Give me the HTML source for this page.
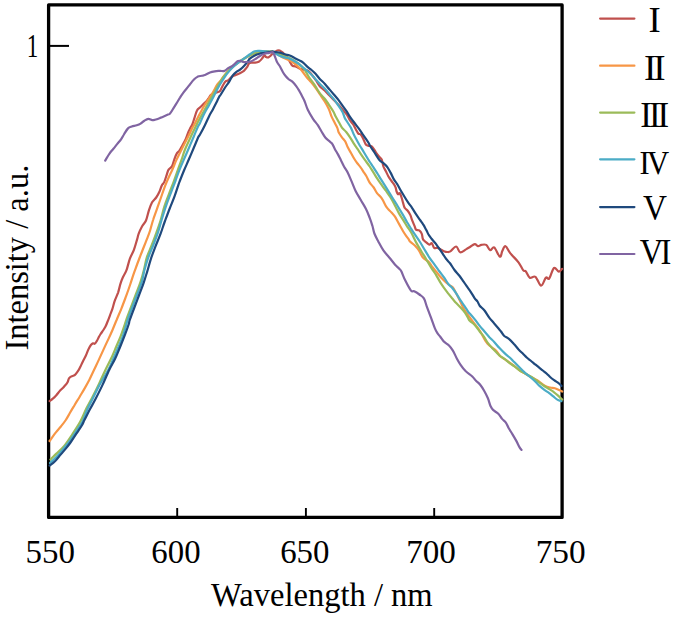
<!DOCTYPE html>
<html><head><meta charset="utf-8"><style>
html,body{margin:0;padding:0;background:#fff;}
body{width:675px;height:619px;overflow:hidden;}
svg{display:block;}
text{font-family:"Liberation Serif",serif;fill:#000;}
</style></head><body>
<svg width="675" height="619" viewBox="0 0 675 619">
<rect x="0" y="0" width="675" height="619" fill="#fff"/>
<g stroke="#000" fill="none">
<path d="M48.6 4.9 H562.1 V517.4 H48.6 Z" stroke-width="3.3" stroke-linejoin="round"/>
<path d="M177.2 517 V508 M305.9 517 V508 M434.2 517 V508" stroke-width="1.9"/>
<path d="M50 45.9 H69" stroke-width="2"/>
</g>
<g fill="none" stroke-width="2.2" stroke-linejoin="round" stroke-linecap="round">
<path d="M49.6 401.1 C50.1 400.7 51.7 399.6 52.8 398.6 C53.9 397.7 54.9 396.7 56.1 395.4 C57.3 394.1 58.8 392.1 60.1 390.6 C61.5 389.1 63.0 387.9 64.2 386.5 C65.4 385.1 66.6 383.9 67.4 382.5 C68.2 381.1 68.3 379.4 69.0 378.4 C69.7 377.4 70.5 376.9 71.4 376.4 C72.4 375.9 73.6 376.1 74.7 375.2 C75.8 374.3 76.9 372.6 77.9 371.2 C78.9 369.8 79.7 368.2 80.5 366.5 C81.3 364.8 82.1 363.0 83.0 361.2 C83.9 359.4 85.0 357.4 85.9 355.5 C86.8 353.6 87.5 351.4 88.3 349.6 C89.1 347.9 90.1 346.0 90.9 345.0 C91.7 344.0 92.2 343.6 92.9 343.4 C93.6 343.2 94.2 344.1 94.8 343.7 C95.4 343.3 96.0 342.3 96.7 341.2 C97.4 340.1 98.1 338.5 98.7 337.3 C99.3 336.1 99.8 335.2 100.6 334.0 C101.4 332.8 102.6 331.2 103.4 330.0 C104.2 328.8 104.8 327.8 105.5 326.5 C106.2 325.2 106.7 323.9 107.4 322.0 C108.2 320.1 109.2 317.5 110.0 315.3 C110.8 313.1 111.6 311.2 112.4 308.8 C113.2 306.4 113.8 303.4 114.8 300.7 C115.8 298.0 117.1 295.4 118.1 292.6 C119.0 289.8 119.7 286.2 120.5 283.7 C121.3 281.1 121.9 279.5 122.9 277.3 C123.9 275.1 125.2 273.5 126.4 270.4 C127.6 267.3 128.6 262.2 129.8 258.8 C131.1 255.4 132.7 253.1 133.9 249.9 C135.1 246.7 136.3 242.1 137.1 239.4 C137.9 236.7 137.9 235.8 138.7 233.7 C139.5 231.5 140.8 228.7 142.0 226.5 C143.2 224.3 144.8 223.2 146.0 220.5 C147.2 217.8 147.9 213.4 148.9 210.4 C149.9 207.4 150.9 204.5 152.1 202.3 C153.3 200.2 155.0 199.2 156.2 197.5 C157.4 195.8 158.5 193.8 159.4 191.8 C160.3 189.8 161.0 187.0 161.8 185.4 C162.6 183.8 163.4 183.9 164.2 182.1 C165.0 180.3 166.0 176.9 166.7 174.8 C167.4 172.7 167.7 171.1 168.6 169.6 C169.5 168.1 171.1 167.9 172.1 166.1 C173.1 164.3 173.7 161.0 174.5 158.8 C175.3 156.6 176.2 154.4 177.0 153.1 C177.8 151.8 178.5 152.0 179.4 150.7 C180.3 149.3 181.5 147.0 182.6 145.0 C183.7 143.0 184.9 140.8 185.9 138.6 C186.9 136.4 187.5 134.0 188.3 132.1 C189.1 130.2 190.0 128.7 190.7 127.3 C191.4 126.0 191.9 125.6 192.5 124.0 C193.1 122.4 193.8 120.0 194.5 117.8 C195.2 115.6 196.1 112.3 197.0 110.6 C197.9 108.8 199.1 108.4 200.2 107.3 C201.3 106.2 202.3 105.2 203.4 104.1 C204.5 103.0 205.8 102.0 206.7 100.9 C207.6 99.8 208.4 98.5 209.1 97.6 C209.8 96.6 209.9 95.9 210.7 95.2 C211.5 94.5 212.7 94.1 213.9 93.6 C215.1 93.1 217.0 92.4 218.0 92.0 C219.0 91.6 219.3 91.8 220.0 91.0 C220.7 90.2 221.2 88.6 222.1 87.0 C223.0 85.4 224.4 82.5 225.4 81.4 C226.4 80.3 227.0 81.1 227.8 80.6 C228.6 80.1 229.1 79.3 230.0 78.5 C230.9 77.7 232.0 76.6 233.0 76.0 C234.0 75.4 234.8 75.4 235.9 74.9 C237.1 74.5 238.6 74.0 239.9 73.3 C241.2 72.6 243.0 71.6 243.9 70.9 C244.8 70.2 244.9 69.7 245.5 69.0 C246.1 68.3 246.8 67.6 247.4 66.7 C248.0 65.8 248.3 64.1 249.0 63.4 C249.7 62.7 250.6 62.7 251.5 62.6 C252.4 62.5 253.5 62.7 254.7 62.6 C255.9 62.5 257.5 62.5 258.7 61.8 C259.9 61.1 261.1 59.7 262.0 58.6 C262.9 57.5 263.7 55.7 264.4 55.4 C265.1 55.1 265.3 56.7 266.0 57.0 C266.7 57.3 267.6 57.7 268.4 57.4 C269.2 57.1 270.1 56.1 270.9 55.4 C271.7 54.6 272.2 53.7 273.3 52.9 C274.4 52.1 276.2 50.9 277.3 50.5 C278.4 50.1 278.9 50.2 279.7 50.5 C280.5 50.8 281.3 51.4 282.2 52.1 C283.1 52.9 284.0 53.9 285.0 55.0 C286.0 56.1 286.9 56.9 288.0 58.5 C289.1 60.1 290.5 63.2 291.3 64.4 C292.1 65.7 292.2 65.7 292.9 66.0 C293.6 66.3 294.4 66.1 295.5 66.5 C296.6 66.9 298.1 67.9 299.4 68.4 C300.6 68.9 301.5 69.1 303.0 69.5 C304.5 69.9 306.8 70.0 308.3 70.9 C309.8 71.8 310.7 73.4 312.0 75.0 C313.3 76.6 314.7 78.6 316.0 80.5 C317.3 82.4 318.4 84.5 319.8 86.2 C321.2 87.9 323.1 89.0 324.7 90.5 C326.3 92.0 328.0 94.0 329.5 95.5 C331.0 97.0 332.1 98.2 333.6 99.8 C335.1 101.3 336.9 103.2 338.4 104.8 C339.9 106.4 341.1 107.8 342.5 109.5 C343.9 111.2 345.7 113.1 347.0 115.0 C348.3 116.9 349.1 119.1 350.2 120.7 C351.3 122.3 352.4 123.2 353.4 124.7 C354.3 126.2 355.1 128.0 355.9 129.5 C356.7 131.0 357.5 132.8 358.3 133.6 C359.1 134.4 359.9 133.6 360.7 134.4 C361.5 135.2 362.3 136.8 363.1 138.4 C363.9 140.0 364.8 142.9 365.6 144.1 C366.4 145.3 366.9 145.3 368.0 145.7 C369.1 146.1 370.7 145.4 372.0 146.5 C373.3 147.6 374.7 150.6 375.9 152.3 C377.1 154.0 378.0 155.3 379.0 156.5 C380.0 157.7 381.0 157.8 381.7 159.5 C382.4 161.2 382.7 164.5 383.4 166.5 C384.1 168.5 385.1 169.7 385.9 171.3 C386.7 172.9 387.4 174.6 388.3 176.2 C389.2 177.8 390.6 179.7 391.5 181.0 C392.4 182.3 393.2 183.1 393.9 184.2 C394.6 185.3 395.2 186.3 395.6 187.5 C396.1 188.7 396.2 190.4 396.6 191.5 C397.0 192.6 397.5 193.9 398.0 194.2 C398.5 194.5 399.2 192.7 399.8 193.2 C400.4 193.7 400.9 195.7 401.5 197.3 C402.1 198.9 402.6 201.2 403.1 202.9 C403.6 204.7 403.9 206.5 404.7 207.8 C405.5 209.2 406.9 209.8 407.9 211.0 C408.8 212.2 409.7 213.6 410.4 215.1 C411.1 216.6 411.3 218.2 412.0 219.9 C412.7 221.7 413.7 224.0 414.4 225.6 C415.1 227.2 415.2 228.8 416.0 229.6 C416.8 230.4 418.2 229.7 419.2 230.4 C420.1 231.1 421.1 232.3 421.7 233.6 C422.3 234.9 422.3 236.9 422.6 238.0 C422.9 239.1 422.9 239.3 423.5 240.0 C424.1 240.7 425.2 241.5 426.2 242.3 C427.2 243.1 428.5 244.6 429.4 244.7 C430.3 244.8 431.0 242.6 431.8 243.1 C432.6 243.6 433.2 247.1 434.2 247.9 C435.1 248.7 436.4 247.6 437.5 247.9 C438.6 248.2 439.6 248.9 440.7 249.5 C441.8 250.1 442.8 250.8 443.9 251.2 C445.0 251.6 446.1 252.0 447.2 252.0 C448.3 252.0 448.9 252.3 450.4 251.4 C451.9 250.5 454.6 246.3 456.2 246.5 C457.8 246.7 458.5 251.8 460.1 252.3 C461.7 252.8 464.2 250.3 465.9 249.4 C467.5 248.5 468.5 247.9 470.0 247.0 C471.5 246.1 473.4 244.3 474.8 244.2 C476.2 244.1 477.0 246.1 478.1 246.2 C479.2 246.3 480.0 245.1 481.3 244.9 C482.6 244.7 484.7 244.0 486.2 244.9 C487.7 245.8 488.9 249.8 490.2 250.2 C491.5 250.6 492.6 246.3 494.2 247.4 C495.8 248.5 498.5 256.1 499.9 256.7 C501.2 257.3 501.4 252.8 502.3 251.0 C503.2 249.2 504.1 245.8 505.5 246.2 C506.9 246.6 508.2 250.7 510.4 253.4 C512.6 256.1 516.4 259.5 518.5 262.3 C520.6 265.1 522.1 268.9 523.3 270.4 C524.5 271.9 524.6 270.0 525.7 271.2 C526.8 272.4 528.2 276.8 529.8 277.7 C531.4 278.6 533.5 275.5 535.4 276.8 C537.3 278.1 539.4 285.6 541.1 285.7 C542.9 285.8 544.5 278.9 545.9 277.7 C547.2 276.5 547.9 280.1 549.2 278.5 C550.6 276.9 552.4 269.1 554.0 268.0 C555.6 266.9 557.5 271.6 558.9 271.7 C560.2 271.8 561.6 269.3 562.1 268.8" stroke="#c0504d"/>
<path d="M49.6 441.0 C50.7 439.5 54.2 434.5 56.1 432.1 C58.0 429.7 59.3 428.5 60.9 426.5 C62.5 424.5 64.3 422.3 65.8 420.0 C67.3 417.7 68.5 415.4 70.0 412.8 C71.5 410.2 73.2 407.4 74.8 404.7 C76.4 402.0 78.1 399.4 79.7 396.7 C81.3 394.0 82.9 391.4 84.5 388.6 C86.1 385.8 87.8 382.8 89.4 379.7 C91.0 376.6 92.4 373.4 94.0 370.0 C95.6 366.6 97.3 363.1 98.9 359.6 C100.5 356.1 102.1 352.6 103.7 349.1 C105.3 345.6 107.1 341.8 108.6 338.6 C110.1 335.4 111.3 332.8 112.6 329.7 C113.9 326.6 115.1 323.5 116.6 320.0 C118.0 316.5 119.7 312.8 121.3 308.8 C122.9 304.8 124.7 299.9 126.2 295.9 C127.7 291.8 128.9 288.4 130.2 284.5 C131.5 280.6 132.6 276.8 134.2 272.4 C135.8 268.0 137.9 262.1 139.5 258.0 C141.1 253.8 142.4 250.6 143.6 247.5 C144.8 244.4 145.7 242.2 146.8 239.4 C147.9 236.6 149.1 233.7 150.1 230.5 C151.1 227.3 151.9 223.6 153.1 220.0 C154.2 216.4 155.7 212.6 157.0 208.8 C158.3 205.1 159.7 201.3 161.0 197.5 C162.3 193.7 163.7 189.7 165.0 186.2 C166.3 182.7 167.9 179.2 169.1 176.5 C170.3 173.8 171.0 172.7 172.2 170.0 C173.4 167.3 174.9 163.3 176.2 160.4 C177.5 157.5 178.9 155.0 180.2 152.3 C181.5 149.6 182.8 146.9 184.2 144.2 C185.5 141.5 187.0 138.9 188.3 136.2 C189.7 133.5 191.1 130.4 192.3 128.1 C193.5 125.8 194.2 124.8 195.4 122.5 C196.6 120.2 197.9 117.4 199.4 114.6 C200.9 111.8 202.6 108.4 204.2 105.7 C205.8 103.0 207.6 100.7 209.1 98.4 C210.6 96.1 211.8 94.3 213.1 92.0 C214.4 89.7 216.0 86.5 217.2 84.7 C218.3 83.0 218.9 83.0 220.0 81.5 C221.1 80.0 222.5 77.9 224.0 76.0 C225.5 74.1 227.3 71.8 229.0 70.0 C230.7 68.2 232.3 66.9 234.0 65.5 C235.7 64.1 237.3 62.9 239.0 61.8 C240.7 60.7 242.3 59.8 244.0 58.8 C245.7 57.8 247.2 56.7 249.0 55.8 C250.8 54.9 252.9 53.9 254.7 53.3 C256.4 52.7 257.9 52.5 259.5 52.2 C261.1 51.9 262.8 51.8 264.4 51.7 C266.0 51.6 267.6 51.5 269.2 51.7 C270.8 51.9 272.4 52.1 274.0 52.7 C275.6 53.3 277.3 54.3 279.0 55.2 C280.7 56.1 282.2 57.1 284.0 58.0 C285.8 58.9 287.9 59.6 289.7 60.5 C291.4 61.4 292.9 62.3 294.5 63.5 C296.1 64.7 297.6 66.1 299.0 67.5 C300.4 68.9 301.3 70.1 302.6 71.7 C303.9 73.3 305.3 75.6 306.7 77.3 C308.1 79.0 309.6 80.4 311.0 82.0 C312.4 83.6 313.5 85.0 315.0 87.0 C316.5 89.0 318.2 91.8 319.8 94.2 C321.4 96.6 323.2 99.1 324.7 101.5 C326.2 103.9 327.5 106.3 328.7 108.8 C329.9 111.3 330.6 114.2 331.6 116.6 C332.6 119.0 333.9 121.2 334.8 123.1 C335.8 125.0 336.6 126.3 337.3 127.9 C338.0 129.5 338.1 131.2 338.9 132.8 C339.7 134.4 341.0 136.1 342.1 137.6 C343.2 139.1 344.4 140.1 345.4 141.7 C346.3 143.3 346.9 145.4 347.8 147.3 C348.7 149.2 349.9 151.1 351.0 153.0 C352.1 154.9 353.3 157.2 354.4 159.0 C355.5 160.8 356.4 162.1 357.5 163.5 C358.6 164.9 359.9 166.4 360.8 167.7 C361.8 169.0 362.3 169.9 363.2 171.3 C364.1 172.7 365.2 174.1 366.3 176.0 C367.4 177.9 368.5 180.7 369.7 182.6 C370.9 184.5 372.5 185.8 373.7 187.5 C374.9 189.2 375.8 191.5 377.0 193.1 C378.2 194.7 379.9 195.8 381.0 197.2 C382.1 198.5 382.6 199.7 383.4 201.2 C384.2 202.7 385.1 204.8 385.9 206.1 C386.7 207.4 387.4 208.2 388.3 209.3 C389.2 210.4 390.4 211.3 391.5 212.5 C392.6 213.7 393.8 214.8 395.0 216.7 C396.2 218.6 397.6 221.5 399.0 223.9 C400.4 226.3 401.9 229.2 403.1 231.2 C404.3 233.2 405.4 234.8 406.3 236.1 C407.2 237.4 408.1 238.4 408.7 239.3 C409.3 240.2 409.0 240.5 410.0 241.5 C411.0 242.5 413.3 244.0 414.8 245.5 C416.3 247.0 417.5 248.4 418.9 250.4 C420.2 252.4 421.3 255.7 422.9 257.6 C424.5 259.5 427.0 260.1 428.6 261.7 C430.2 263.3 431.2 265.6 432.6 267.3 C434.0 269.1 435.5 270.7 436.7 272.2 C437.9 273.7 438.7 274.8 439.9 276.2 C441.1 277.6 442.6 279.1 444.0 280.5 C445.4 281.9 447.0 283.3 448.5 284.5 C450.0 285.7 451.6 285.9 452.9 287.5 C454.2 289.1 455.2 291.6 456.5 294.0 C457.8 296.4 459.2 299.4 460.5 302.0 C461.8 304.6 462.6 306.9 464.2 309.5 C465.8 312.1 468.1 315.2 469.9 317.7 C471.7 320.1 473.1 322.0 474.8 324.2 C476.5 326.4 478.1 328.0 480.0 331.0 C481.9 334.0 484.5 339.5 486.2 342.0 C487.9 344.5 488.4 344.6 490.0 346.0 C491.6 347.4 494.2 348.8 495.9 350.5 C497.6 352.2 498.5 354.5 500.0 356.0 C501.5 357.5 503.3 358.1 505.0 359.3 C506.7 360.5 508.3 361.8 510.0 363.0 C511.7 364.2 513.3 365.2 515.0 366.5 C516.7 367.8 518.3 369.3 520.0 370.5 C521.7 371.7 523.3 372.6 525.0 373.6 C526.7 374.6 528.0 375.4 530.0 376.5 C532.0 377.6 534.6 378.6 537.1 380.2 C539.6 381.8 543.0 384.7 545.2 385.9 C547.4 387.1 548.5 387.1 550.1 387.5 C551.7 387.9 553.4 387.9 554.9 388.3 C556.4 388.7 557.7 389.4 558.9 389.9 C560.1 390.4 561.7 391.2 562.2 391.5" stroke="#f79646"/>
<path d="M50.4 459.6 C51.4 458.7 53.8 456.2 56.1 453.9 C58.4 451.6 61.5 449.1 64.2 445.9 C66.9 442.7 69.5 438.6 72.2 434.5 C74.9 430.4 78.0 425.9 80.3 421.6 C82.6 417.3 84.2 413.0 86.2 408.8 C88.2 404.6 90.4 400.9 92.6 396.7 C94.8 392.5 97.0 388.1 99.1 383.7 C101.2 379.2 103.4 374.1 105.4 370.0 C107.4 365.9 109.2 362.6 111.0 358.8 C112.8 355.1 114.3 351.3 115.9 347.5 C117.5 343.7 119.2 340.0 120.7 336.2 C122.2 332.4 123.8 327.5 124.7 324.8 C125.6 322.1 125.2 322.9 126.2 320.0 C127.2 317.1 129.4 311.5 131.0 307.2 C132.6 302.9 134.3 298.5 135.9 294.2 C137.5 289.9 139.4 285.3 140.7 281.3 C142.0 277.3 142.9 274.0 143.9 270.0 C144.9 266.0 145.6 261.4 146.9 257.2 C148.2 253.0 150.2 249.2 151.8 245.0 C153.4 240.8 155.1 236.3 156.6 232.1 C158.1 227.9 159.4 224.3 160.7 220.0 C162.0 215.7 163.0 210.8 164.4 206.4 C165.8 202.0 167.6 197.7 169.2 193.4 C170.8 189.1 172.7 184.4 174.1 180.5 C175.5 176.6 176.6 173.4 177.8 170.0 C179.0 166.6 180.3 163.3 181.5 160.0 C182.7 156.7 183.5 153.3 184.8 150.0 C186.1 146.7 187.8 143.3 189.3 140.0 C190.8 136.7 192.4 133.3 194.0 130.0 C195.6 126.7 197.3 123.2 199.0 120.0 C200.7 116.8 202.2 114.2 204.0 111.0 C205.8 107.8 208.0 103.5 209.7 100.5 C211.4 97.5 212.6 95.6 214.0 93.0 C215.4 90.4 217.0 87.3 218.3 85.0 C219.6 82.7 220.6 81.1 222.0 79.0 C223.4 76.9 225.3 74.4 227.0 72.5 C228.7 70.6 230.3 69.0 232.0 67.5 C233.7 66.0 235.3 64.8 237.0 63.5 C238.7 62.2 240.3 61.1 242.0 60.0 C243.7 58.9 245.3 57.9 247.0 57.0 C248.7 56.1 250.3 55.2 252.0 54.5 C253.7 53.8 255.3 53.2 257.0 52.7 C258.7 52.2 260.3 51.9 262.0 51.7 C263.7 51.5 265.3 51.4 267.0 51.4 C268.7 51.4 270.3 51.4 272.0 51.7 C273.7 52.0 275.3 52.5 277.0 53.0 C278.7 53.5 280.7 54.4 282.0 55.0 C283.3 55.6 283.7 56.0 285.0 56.5 C286.3 57.0 288.1 57.1 289.7 57.9 C291.3 58.6 292.9 59.9 294.5 61.0 C296.1 62.1 297.8 63.0 299.4 64.4 C301.0 65.8 302.6 67.1 304.2 69.2 C305.8 71.3 307.5 74.9 309.1 77.3 C310.7 79.7 312.4 81.6 313.9 83.8 C315.4 86.0 316.8 88.7 318.0 90.5 C319.2 92.3 319.9 93.4 321.0 94.8 C322.1 96.2 323.3 97.0 324.7 98.8 C326.1 100.6 328.0 103.4 329.5 105.6 C331.0 107.8 332.6 110.2 333.6 112.0 C334.6 113.8 334.8 114.9 335.7 116.6 C336.6 118.3 337.8 120.4 338.9 122.3 C340.0 124.2 340.9 126.3 342.1 127.9 C343.3 129.5 344.9 130.4 346.2 132.0 C347.5 133.6 348.9 135.6 350.2 137.6 C351.5 139.6 353.0 142.2 354.2 144.1 C355.4 146.0 356.4 147.3 357.5 148.9 C358.6 150.5 359.5 152.0 360.7 153.8 C361.9 155.6 363.2 157.5 364.7 159.6 C366.2 161.7 368.2 164.3 369.7 166.5 C371.2 168.7 372.3 170.8 373.7 172.9 C375.1 175.1 376.4 177.4 377.8 179.4 C379.2 181.4 380.5 183.2 381.8 185.1 C383.1 187.0 384.5 188.8 385.9 190.7 C387.2 192.6 388.7 194.5 389.9 196.4 C391.1 198.3 392.1 200.2 393.1 202.0 C394.1 203.8 395.0 205.6 396.0 207.5 C397.0 209.4 397.8 211.3 399.0 213.4 C400.2 215.5 401.8 217.7 403.1 219.9 C404.5 222.1 405.8 224.3 407.1 226.4 C408.5 228.5 409.6 229.7 411.2 232.5 C412.8 235.3 414.8 240.0 416.5 243.1 C418.2 246.2 419.7 248.5 421.3 251.2 C422.9 253.9 424.6 256.5 426.2 259.2 C427.8 261.9 429.4 264.7 431.0 267.3 C432.6 269.9 434.3 272.1 435.9 274.6 C437.4 277.1 438.9 280.1 440.3 282.3 C441.7 284.5 442.7 286.0 444.0 287.8 C445.3 289.6 446.8 291.6 448.1 293.4 C449.5 295.1 450.8 296.7 452.1 298.3 C453.5 299.9 454.7 301.5 456.2 303.1 C457.7 304.7 459.5 306.4 461.0 308.0 C462.5 309.6 463.9 311.1 465.1 312.8 C466.3 314.6 467.5 317.1 468.3 318.5 C469.1 319.9 468.9 319.9 470.0 321.0 C471.1 322.1 473.2 323.2 474.8 325.0 C476.4 326.8 478.2 329.6 479.7 331.5 C481.2 333.4 482.3 334.5 483.7 336.4 C485.1 338.3 486.3 340.8 487.8 342.8 C489.3 344.8 491.2 346.9 492.6 348.5 C494.1 350.1 495.3 351.3 496.5 352.5 C497.7 353.7 498.6 354.8 500.0 355.9 C501.4 357.0 503.2 357.9 504.8 359.1 C506.4 360.3 508.1 361.9 509.7 363.1 C511.3 364.3 512.9 365.2 514.5 366.4 C516.1 367.6 517.7 369.2 519.4 370.4 C521.1 371.5 522.6 372.2 524.6 373.3 C526.6 374.4 529.4 375.7 531.5 377.0 C533.6 378.3 535.2 379.6 537.1 381.0 C539.0 382.4 540.8 383.8 542.8 385.1 C544.8 386.5 547.3 387.9 549.2 389.1 C551.1 390.3 552.5 391.1 554.1 392.3 C555.7 393.5 557.5 395.2 558.9 396.4 C560.2 397.6 561.7 399.1 562.2 399.6" stroke="#9bbb59"/>
<path d="M50.0 463.0 C50.8 462.2 53.5 459.8 55.0 458.3 C56.5 456.8 57.6 455.6 58.9 454.2 C60.2 452.8 61.5 451.1 62.8 449.6 C64.1 448.1 65.3 446.6 66.6 445.0 C67.9 443.4 69.2 441.6 70.5 439.8 C71.8 438.0 73.1 435.9 74.4 434.0 C75.7 432.1 77.0 430.1 78.3 428.2 C79.6 426.2 81.3 423.7 82.1 422.3 C82.9 420.9 82.3 422.2 83.2 420.0 C84.1 417.8 85.9 412.7 87.5 409.0 C89.1 405.3 91.0 402.0 93.0 398.0 C95.0 394.0 97.0 389.7 99.5 385.0 C102.0 380.3 105.9 374.4 108.2 370.0 C110.5 365.6 111.6 362.6 113.3 358.8 C115.0 355.1 116.6 351.3 118.2 347.5 C119.8 343.7 121.6 339.8 122.9 336.0 C124.2 332.2 125.4 327.7 126.2 325.0 C127.0 322.3 126.6 323.0 127.6 320.0 C128.6 317.0 130.7 311.5 132.3 307.2 C133.9 302.9 135.6 298.5 137.2 294.2 C138.8 289.9 140.8 285.3 142.0 281.3 C143.2 277.3 143.4 274.0 144.5 270.0 C145.6 266.0 146.9 261.4 148.4 257.2 C149.9 253.0 151.7 249.2 153.3 245.0 C154.9 240.8 156.7 236.3 158.1 232.1 C159.5 227.9 160.3 224.3 161.6 220.0 C162.9 215.7 164.4 210.8 165.9 206.4 C167.4 202.0 169.1 197.7 170.7 193.4 C172.3 189.1 174.2 184.1 175.6 180.5 C176.9 176.9 178.0 173.7 178.8 171.6 C179.6 169.5 179.3 170.1 180.2 168.0 C181.1 165.9 182.7 162.2 184.2 158.8 C185.7 155.4 187.5 151.3 189.1 147.5 C190.7 143.7 192.4 139.7 193.9 136.2 C195.4 132.7 197.0 128.6 198.0 126.5 C199.0 124.4 198.8 125.6 199.8 123.5 C200.8 121.4 202.6 116.9 204.2 113.8 C205.8 110.7 207.5 107.9 209.1 104.9 C210.7 101.9 212.2 99.2 213.9 96.0 C215.6 92.8 217.4 88.9 219.2 85.8 C221.0 82.7 222.8 79.8 224.5 77.3 C226.2 74.8 227.8 72.8 229.4 70.9 C231.0 69.0 232.6 67.5 234.2 66.0 C235.8 64.5 237.5 63.2 239.1 62.0 C240.7 60.8 242.2 60.0 243.9 58.7 C245.6 57.5 247.7 55.7 249.5 54.5 C251.3 53.3 253.0 51.9 254.7 51.3 C256.4 50.7 257.9 50.9 259.5 50.9 C261.1 50.9 262.8 51.2 264.4 51.3 C266.0 51.4 267.6 51.4 269.2 51.7 C270.8 52.0 272.5 52.3 274.1 52.9 C275.7 53.5 277.3 54.6 279.0 55.4 C280.7 56.1 282.5 56.8 284.3 57.4 C286.1 58.0 288.0 58.1 289.7 58.7 C291.4 59.3 292.9 60.2 294.5 61.2 C296.1 62.2 297.8 63.2 299.4 64.4 C301.0 65.6 302.6 67.1 304.2 68.4 C305.8 69.8 307.5 71.0 309.1 72.5 C310.7 74.0 312.2 75.5 313.9 77.3 C315.6 79.1 317.5 81.4 319.3 83.3 C321.1 85.2 323.0 86.8 324.7 88.6 C326.4 90.4 327.9 92.3 329.5 94.2 C331.1 96.1 332.9 98.0 334.4 99.9 C335.9 101.8 337.0 103.6 338.4 105.6 C339.8 107.6 341.4 109.9 342.5 112.0 C343.6 114.1 344.1 116.6 344.9 118.2 C345.6 119.8 346.0 119.9 347.0 121.5 C348.0 123.1 349.9 125.9 351.0 127.9 C352.1 129.9 352.4 131.6 353.4 133.6 C354.3 135.6 355.6 138.0 356.7 140.0 C357.8 142.0 358.7 143.7 359.9 145.7 C361.1 147.7 362.7 150.2 363.9 152.2 C365.1 154.2 366.3 156.2 367.2 157.8 C368.1 159.4 368.6 160.1 369.5 161.5 C370.4 162.9 371.6 164.6 372.9 166.5 C374.1 168.4 375.6 170.8 377.0 172.9 C378.4 175.1 379.6 177.2 381.0 179.4 C382.4 181.6 383.8 183.8 385.1 185.9 C386.5 188.1 387.8 190.2 389.1 192.3 C390.4 194.5 391.8 196.6 393.1 198.8 C394.5 201.0 396.2 203.6 397.2 205.3 C398.2 207.0 398.3 207.2 399.3 208.8 C400.3 210.4 401.8 212.8 403.1 215.1 C404.4 217.3 405.8 220.0 407.1 222.3 C408.5 224.6 409.9 226.7 411.2 228.8 C412.5 230.9 413.6 232.6 415.0 234.7 C416.4 236.8 418.1 239.0 419.7 241.5 C421.3 244.0 422.9 246.8 424.5 249.5 C426.1 252.2 427.8 255.2 429.4 257.6 C431.0 260.0 432.5 261.8 434.2 264.1 C435.9 266.4 437.9 269.3 439.5 271.5 C441.1 273.7 442.5 275.2 444.0 277.3 C445.5 279.4 446.9 282.2 448.3 284.0 C449.7 285.8 450.8 286.2 452.1 287.8 C453.4 289.4 454.9 291.4 456.2 293.4 C457.5 295.4 458.9 297.9 460.2 299.9 C461.5 301.9 462.8 303.6 464.2 305.6 C465.6 307.6 467.3 310.6 468.3 312.0 C469.3 313.4 468.9 312.5 470.0 313.7 C471.1 314.9 473.2 317.4 474.8 319.4 C476.4 321.4 478.1 323.9 479.7 325.9 C481.3 327.9 482.9 329.6 484.5 331.5 C486.1 333.4 487.8 335.4 489.4 337.2 C491.0 338.9 492.5 340.2 494.2 342.0 C495.9 343.8 497.7 346.2 499.5 348.1 C501.3 350.0 503.1 351.8 504.8 353.4 C506.5 355.0 508.1 356.0 509.7 357.5 C511.3 359.0 512.9 360.7 514.5 362.3 C516.1 363.9 517.7 365.5 519.4 367.2 C521.1 368.9 522.9 370.8 524.6 372.4 C526.3 373.9 527.8 375.1 529.5 376.5 C531.2 377.9 533.0 379.4 534.7 381.0 C536.4 382.6 537.9 384.4 539.5 385.9 C541.1 387.4 542.8 388.7 544.4 389.9 C546.0 391.1 547.7 392.0 549.2 393.1 C550.7 394.2 551.9 395.3 553.3 396.4 C554.6 397.5 555.9 398.8 557.3 399.6 C558.6 400.4 560.7 400.9 561.4 401.2" stroke="#4bacc6"/>
<path d="M49.6 465.6 C50.5 464.9 53.5 462.7 55.0 461.2 C56.5 459.7 57.6 458.2 58.9 456.7 C60.2 455.2 61.5 453.6 62.8 452.1 C64.1 450.6 65.3 449.2 66.6 447.6 C67.9 446.0 69.2 444.3 70.5 442.5 C71.8 440.7 73.1 438.6 74.4 436.6 C75.7 434.7 77.0 432.7 78.3 430.8 C79.6 428.9 81.0 426.9 82.1 425.0 C83.2 423.1 83.3 422.2 84.7 419.5 C86.1 416.8 88.3 412.3 90.2 408.8 C92.1 405.3 93.9 402.2 95.9 398.3 C97.9 394.4 100.1 390.1 102.3 385.4 C104.5 380.7 107.1 374.4 109.2 370.0 C111.3 365.6 113.3 362.6 115.1 358.8 C116.9 355.1 118.3 351.4 119.9 347.5 C121.5 343.6 123.2 339.3 124.7 335.4 C126.2 331.5 128.0 326.5 128.8 324.0 C129.6 321.5 128.7 323.2 129.6 320.5 C130.5 317.8 132.6 312.2 134.2 308.0 C135.8 303.8 137.5 299.3 139.1 295.0 C140.7 290.7 142.6 286.0 143.9 282.1 C145.2 278.2 146.0 275.5 147.2 271.6 C148.4 267.7 149.5 263.1 150.9 258.8 C152.3 254.5 154.1 250.1 155.7 245.9 C157.3 241.7 159.1 237.8 160.6 233.7 C162.1 229.6 163.2 225.8 164.8 221.5 C166.4 217.2 168.2 212.3 169.9 208.0 C171.6 203.7 173.2 200.0 174.7 195.9 C176.2 191.8 177.9 186.3 178.8 183.7 C179.7 181.1 179.1 182.8 180.0 180.5 C180.9 178.2 182.7 173.6 184.2 170.0 C185.7 166.4 187.5 162.6 189.1 158.8 C190.7 155.1 192.4 151.0 193.9 147.5 C195.4 144.0 197.0 140.0 198.0 137.8 C199.0 135.6 198.8 136.6 200.0 134.5 C201.2 132.4 203.5 128.1 205.0 125.0 C206.5 122.0 207.8 118.9 209.1 116.2 C210.4 113.5 211.8 111.5 213.1 108.9 C214.4 106.4 216.1 103.1 217.2 100.9 C218.3 98.8 219.0 97.0 219.6 96.0 C220.2 95.0 219.5 96.5 220.5 95.0 C221.5 93.5 223.9 89.3 225.4 87.0 C226.9 84.7 228.2 83.3 229.4 81.4 C230.6 79.5 231.4 77.3 232.6 75.7 C233.8 74.1 235.3 72.8 236.7 71.7 C238.0 70.6 239.4 70.3 240.7 69.2 C242.0 68.1 243.5 66.5 244.7 65.2 C245.9 63.9 247.2 62.3 248.0 61.2 C248.8 60.1 248.7 59.6 249.8 58.6 C250.9 57.6 253.1 56.2 254.7 55.4 C256.3 54.6 257.9 54.1 259.5 53.7 C261.1 53.3 262.8 53.2 264.4 52.9 C266.0 52.6 267.8 52.4 269.2 52.1 C270.6 51.8 271.4 51.3 272.5 51.3 C273.6 51.3 274.4 51.9 275.7 52.1 C276.9 52.3 278.5 52.2 280.0 52.6 C281.5 53.0 283.2 53.8 284.8 54.3 C286.4 54.8 288.1 54.9 289.7 55.5 C291.3 56.1 292.9 57.1 294.5 57.9 C296.1 58.7 297.9 59.6 299.4 60.4 C300.9 61.2 302.0 61.7 303.4 62.8 C304.8 63.9 306.1 65.6 307.5 66.8 C308.9 68.0 310.2 68.9 311.5 70.0 C312.8 71.1 313.9 72.1 315.3 73.6 C316.7 75.1 318.2 77.2 319.8 78.9 C321.4 80.6 323.1 82.0 324.7 83.7 C326.3 85.5 328.0 87.7 329.5 89.4 C331.0 91.2 332.1 92.5 333.6 94.2 C335.1 96.0 336.9 98.0 338.4 99.9 C339.9 101.8 341.1 103.7 342.5 105.6 C343.9 107.5 345.4 109.6 346.5 111.2 C347.6 112.8 347.9 113.6 349.0 115.3 C350.1 117.0 351.8 119.4 353.4 121.5 C354.9 123.6 356.8 125.9 358.3 127.9 C359.8 129.9 361.1 131.8 362.3 133.6 C363.5 135.3 364.5 136.8 365.6 138.4 C366.7 140.0 368.1 142.1 368.8 143.3 C369.5 144.5 369.1 144.2 370.0 145.7 C370.9 147.2 372.9 150.1 374.5 152.5 C376.1 154.9 377.9 158.2 379.4 160.0 C380.9 161.8 382.0 162.0 383.4 163.2 C384.8 164.4 386.3 165.7 387.5 167.3 C388.7 168.9 389.6 170.9 390.7 172.9 C391.8 174.9 392.8 177.5 393.9 179.4 C395.0 181.3 396.2 182.6 397.2 184.2 C398.2 185.8 398.8 187.1 399.9 189.0 C401.0 190.9 402.6 193.5 403.9 195.7 C405.2 197.9 406.5 200.1 407.9 202.1 C409.2 204.1 410.6 205.8 412.0 207.8 C413.4 209.8 414.7 212.2 416.0 214.2 C417.3 216.2 418.8 218.2 420.0 219.9 C421.2 221.7 422.2 222.9 423.3 224.7 C424.4 226.4 425.6 228.8 426.5 230.4 C427.4 232.0 427.6 233.1 428.5 234.5 C429.4 235.9 430.6 237.4 431.8 239.0 C433.0 240.6 434.5 242.2 435.9 243.9 C437.2 245.7 438.7 247.8 439.9 249.5 C441.1 251.2 442.0 252.8 443.1 254.4 C444.2 256.0 445.2 257.7 446.4 259.2 C447.5 260.7 448.6 261.5 450.0 263.3 C451.4 265.1 452.9 267.9 454.5 270.0 C456.1 272.1 457.9 273.8 459.4 275.7 C460.9 277.6 462.2 279.6 463.4 281.3 C464.6 283.1 465.5 284.4 466.7 286.2 C467.9 287.9 469.4 289.8 470.7 291.8 C472.0 293.8 473.6 296.7 474.7 298.3 C475.8 299.9 476.7 300.3 477.5 301.5 C478.3 302.7 478.5 304.2 479.7 305.7 C480.9 307.2 482.9 308.5 484.5 310.5 C486.1 312.5 487.8 315.7 489.4 317.8 C491.0 319.9 492.7 321.6 494.2 323.4 C495.7 325.1 497.2 326.9 498.3 328.3 C499.4 329.7 500.1 330.3 501.0 331.5 C501.9 332.7 502.7 334.5 504.0 335.7 C505.3 336.9 507.3 337.6 508.9 338.9 C510.5 340.2 512.1 341.9 513.7 343.7 C515.3 345.4 517.0 347.6 518.6 349.4 C520.2 351.1 522.0 352.8 523.4 354.2 C524.8 355.6 525.5 356.4 526.7 357.5 C527.9 358.6 529.0 359.3 530.5 360.5 C532.0 361.7 534.0 363.4 535.6 364.7 C537.2 366.0 538.8 367.3 540.0 368.3 C541.2 369.3 541.7 369.6 542.8 370.5 C543.9 371.4 545.6 372.6 546.8 373.7 C548.0 374.8 548.9 375.9 550.1 377.0 C551.3 378.1 552.6 379.1 554.1 380.2 C555.6 381.3 557.7 382.4 558.9 383.4 C560.1 384.3 561.0 385.5 561.4 385.9" stroke="#1f497d"/>
<path d="M105.2 160.6 C105.9 159.4 108.1 155.6 109.5 153.6 C110.9 151.6 112.1 150.4 113.4 148.8 C114.7 147.2 116.0 145.5 117.3 143.9 C118.6 142.3 120.1 140.7 121.2 139.1 C122.3 137.5 123.0 136.0 124.1 134.2 C125.2 132.4 126.7 129.7 128.0 128.4 C129.3 127.1 130.4 127.0 131.8 126.5 C133.2 126.0 135.2 125.8 136.7 125.3 C138.2 124.8 139.3 124.4 140.6 123.6 C141.9 122.8 143.1 121.5 144.4 120.7 C145.7 119.9 147.0 119.0 148.3 118.9 C149.6 118.8 151.1 120.1 152.2 120.2 C153.3 120.3 153.7 120.1 155.0 119.7 C156.3 119.3 157.9 118.8 160.1 117.9 C162.2 117.1 166.2 115.3 167.9 114.6 C169.6 113.9 169.0 114.7 170.0 113.6 C171.0 112.5 172.6 109.6 173.7 107.9 C174.8 106.2 175.4 105.0 176.5 103.3 C177.6 101.6 178.9 99.3 180.0 97.6 C181.1 95.8 182.1 94.3 183.2 92.8 C184.3 91.3 185.4 90.0 186.5 88.7 C187.6 87.4 188.5 86.2 189.7 84.7 C190.9 83.2 192.3 81.2 193.7 79.8 C195.0 78.4 196.5 77.3 197.8 76.6 C199.2 75.9 200.6 76.1 201.8 75.8 C203.0 75.5 203.6 75.5 205.0 75.0 C206.4 74.5 208.4 73.1 210.0 72.5 C211.6 71.9 213.2 71.6 214.8 71.3 C216.4 71.0 218.1 71.0 219.7 70.9 C221.3 70.8 223.2 71.3 224.5 70.9 C225.8 70.5 226.7 69.1 227.8 68.4 C228.9 67.7 229.9 67.5 231.0 66.8 C232.1 66.1 233.1 65.3 234.2 64.4 C235.3 63.5 236.6 61.8 237.5 61.2 C238.4 60.6 239.0 60.7 239.9 60.8 C240.8 60.9 242.0 61.8 243.1 62.0 C244.2 62.2 245.3 62.0 246.4 62.0 C247.5 62.0 248.4 62.2 249.8 61.8 C251.2 61.4 253.1 60.3 254.7 59.4 C256.3 58.5 257.9 57.2 259.5 56.2 C261.1 55.2 262.8 54.2 264.4 53.7 C266.0 53.2 267.8 53.2 269.2 52.9 C270.6 52.6 271.7 51.8 272.5 52.1 C273.3 52.4 273.6 53.4 274.1 54.5 C274.6 55.6 275.2 57.2 275.7 58.6 C276.2 60.0 276.6 61.3 277.3 62.6 C278.0 63.9 279.0 64.8 280.0 66.5 C281.0 68.2 282.1 70.8 283.1 72.5 C284.1 74.2 285.0 75.3 286.0 76.5 C287.0 77.7 288.0 78.7 289.0 79.5 C290.0 80.3 290.9 80.3 292.1 81.4 C293.3 82.5 295.0 84.6 296.2 86.2 C297.4 87.8 298.4 89.5 299.4 91.1 C300.4 92.7 301.1 94.3 302.0 96.0 C302.9 97.7 303.5 98.7 304.5 101.0 C305.5 103.3 306.4 106.8 307.8 109.8 C309.2 112.8 311.3 116.2 313.0 118.8 C314.7 121.4 316.4 123.1 317.8 125.2 C319.2 127.3 320.2 129.4 321.5 131.5 C322.8 133.6 324.1 136.1 325.5 137.8 C326.9 139.5 328.9 140.6 330.0 141.7 C331.1 142.8 331.6 142.9 332.4 144.1 C333.2 145.3 333.9 147.2 334.8 148.9 C335.8 150.7 337.1 152.8 338.1 154.6 C339.1 156.4 339.8 158.0 340.8 160.0 C341.8 162.0 342.8 164.3 344.0 166.5 C345.2 168.7 346.6 170.3 347.9 172.9 C349.2 175.5 350.5 178.9 351.8 181.9 C353.1 184.9 354.1 188.0 355.6 191.0 C357.1 194.0 359.1 197.0 360.8 200.0 C362.5 203.0 364.5 206.0 366.0 209.0 C367.5 212.0 368.7 215.3 369.8 218.1 C370.9 220.9 371.6 223.2 372.4 225.8 C373.2 228.4 373.4 230.9 374.4 233.5 C375.4 236.1 376.8 238.6 378.3 241.4 C379.8 244.2 381.5 247.6 383.4 250.4 C385.3 253.2 387.9 255.8 389.9 258.2 C391.8 260.6 393.6 263.0 395.1 264.7 C396.6 266.4 398.0 267.4 399.0 268.5 C400.0 269.6 400.3 269.3 401.3 271.3 C402.3 273.3 403.6 277.1 405.2 280.3 C406.8 283.5 409.5 288.8 411.0 290.6 C412.5 292.4 412.8 290.7 414.2 291.3 C415.6 291.9 417.8 293.3 419.4 294.5 C421.0 295.7 422.6 296.2 423.9 298.4 C425.2 300.5 425.9 304.2 427.1 307.4 C428.3 310.6 429.7 314.2 431.0 317.7 C432.3 321.1 433.7 325.5 434.8 328.1 C435.9 330.7 436.5 331.8 437.4 333.2 C438.3 334.6 439.2 335.4 440.3 336.8 C441.4 338.2 442.4 340.2 443.9 341.6 C445.3 343.1 447.5 344.0 449.0 345.5 C450.5 347.0 451.6 348.5 452.9 350.6 C454.2 352.8 455.5 356.0 456.8 358.4 C458.1 360.8 459.1 362.6 460.6 364.8 C462.1 367.0 463.9 369.4 465.8 371.3 C467.8 373.2 470.6 374.9 472.3 376.5 C474.0 378.1 474.7 379.4 476.0 380.8 C477.3 382.2 478.9 383.1 480.2 384.7 C481.5 386.3 482.7 388.2 484.0 390.5 C485.3 392.8 486.8 395.7 487.9 398.3 C489.0 400.9 489.6 404.1 490.5 406.0 C491.4 407.9 491.8 408.6 493.1 409.9 C494.4 411.2 496.8 412.3 498.3 413.8 C499.8 415.3 500.8 417.4 502.1 418.9 C503.4 420.4 504.9 421.3 506.0 422.8 C507.1 424.3 507.5 426.1 508.6 428.0 C509.7 429.9 511.2 432.2 512.5 434.4 C513.8 436.5 515.1 438.7 516.3 440.9 C517.5 443.1 518.7 445.9 519.6 447.4 C520.5 448.9 521.2 449.5 521.5 449.9" stroke="#8064a2"/>
</g>
<g fill="none" stroke-width="2.2" stroke-linecap="round">
<line x1="600.1" y1="18.6" x2="634.4" y2="18.6" stroke="#c0504d"/>
<line x1="600.1" y1="65.7" x2="634.4" y2="65.7" stroke="#f79646"/>
<line x1="600.1" y1="112.6" x2="634.4" y2="112.6" stroke="#9bbb59"/>
<line x1="600.1" y1="159.3" x2="634.4" y2="159.3" stroke="#4bacc6"/>
<line x1="600.1" y1="207.1" x2="634.4" y2="207.1" stroke="#1f497d"/>
<line x1="600.1" y1="254.0" x2="634.4" y2="254.0" stroke="#8064a2"/>
</g>
<text transform="translate(25.49 563.45) scale(0.9557 1.0022)" style="font-size:34.5px;">550</text>
<text transform="translate(151.37 563.45) scale(0.9510 1.0022)" style="font-size:34.5px;">600</text>
<text transform="translate(280.17 563.45) scale(0.9531 1.0022)" style="font-size:34.5px;">650</text>
<text transform="translate(406.14 563.45) scale(0.9606 1.0022)" style="font-size:34.5px;">700</text>
<text transform="translate(535.63 563.45) scale(0.9658 1.0022)" style="font-size:34.5px;">750</text>
<text transform="translate(26.79 56.70) scale(0.6694 1.0066)" style="font-size:34.5px;">1</text>
<text transform="translate(211.10 606.10) scale(0.9439 1.0000)" style="font-size:34.5px;">Wavelength / nm</text>
<text transform="translate(28.10 350.58) rotate(-90) scale(0.9419 1)" style="font-size:34.5px;">Intensity / a.u.</text>
<text transform="translate(648.49 32.30) scale(1.0486 1.0348)" style="font-size:35px;letter-spacing:-3px;">I</text>
<text transform="translate(643.98 79.70) scale(1.0592 1.0130)" style="font-size:35px;letter-spacing:-3px;">II</text>
<text transform="translate(640.35 126.90) scale(0.9962 1.0174)" style="font-size:35px;letter-spacing:-3px;">III</text>
<text transform="translate(639.41 173.50) scale(0.8744 0.9915)" style="font-size:35px;letter-spacing:-3px;">IV</text>
<text transform="translate(642.93 220.49) scale(0.9469 1.0170)" style="font-size:35px;letter-spacing:-3px;">V</text>
<text transform="translate(639.74 264.29) scale(0.9271 1.0128)" style="font-size:35px;letter-spacing:-3px;">VI</text>

</svg>
</body></html>
